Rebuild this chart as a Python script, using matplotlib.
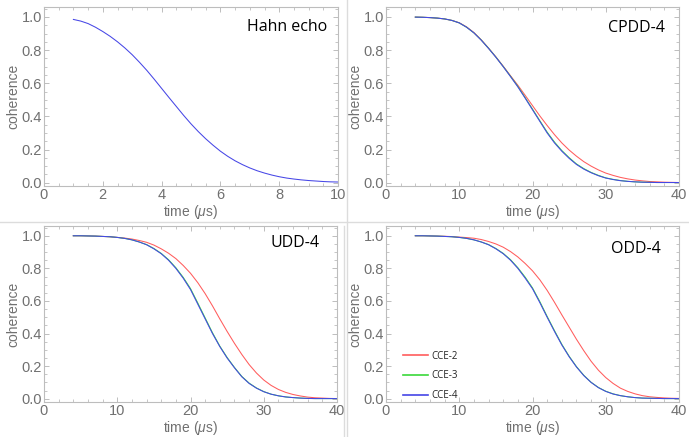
import matplotlib
matplotlib.use("Agg")
import matplotlib.pyplot as plt
from matplotlib.lines import Line2D
from matplotlib.ticker import MultipleLocator

# ---------------- data ----------------
hahn_t = [1.0, 1.25, 1.5, 1.75, 2.0, 2.25, 2.5, 2.75, 3.0, 3.25, 3.5, 3.75, 4.0, 4.25, 4.5, 4.75,
          5.0, 5.25, 5.5, 5.75, 6.0, 6.25, 6.5, 6.75, 7.0, 7.25, 7.5, 7.75, 8.0, 8.25, 8.5, 8.75,
          9.0, 9.25, 9.5, 9.75, 10.0]
hahn_c = [0.985, 0.975, 0.96, 0.938, 0.912, 0.883, 0.85, 0.813, 0.772, 0.726, 0.677, 0.624, 0.569, 0.514, 0.46, 0.406,
          0.355, 0.308, 0.265, 0.226, 0.19, 0.159, 0.132, 0.109, 0.089, 0.072, 0.058, 0.046, 0.036, 0.028, 0.022, 0.017,
          0.013, 0.01, 0.007, 0.005, 0.004]

dd_t = [4, 5, 6, 7, 8, 9, 10, 11, 12, 13, 14, 15, 16, 17, 18, 19, 20, 21, 22,
        23, 24, 25, 26, 27, 28, 29, 30, 31, 32, 33, 34, 35, 36, 37, 38, 39, 40]

cpdd_cce2 = [0.999, 0.998, 0.996, 0.993, 0.988, 0.979, 0.965, 0.94, 0.906, 0.862, 0.812, 0.759, 0.703, 0.645, 0.588, 0.527, 0.465, 0.403, 0.345,
             0.29, 0.24, 0.197, 0.16, 0.127, 0.10, 0.077, 0.058, 0.044, 0.032, 0.023, 0.016, 0.011, 0.007, 0.005, 0.003, 0.002, 0.001]
cpdd_cce3 = [0.999, 0.998, 0.996, 0.993, 0.988, 0.979, 0.964, 0.938, 0.904, 0.861, 0.811, 0.758, 0.701, 0.642, 0.581, 0.513, 0.444, 0.374, 0.305,
             0.245, 0.194, 0.151, 0.113, 0.085, 0.062, 0.044, 0.029, 0.02, 0.013, 0.008, 0.005, 0.003, 0.002, 0.001, 0.001, 0.001, 0.001]
cpdd_cce4 = [0.999, 0.998, 0.996, 0.993, 0.988, 0.979, 0.964, 0.938, 0.904, 0.86, 0.81, 0.757, 0.70, 0.64, 0.578, 0.51, 0.44, 0.37, 0.30,
             0.24, 0.19, 0.147, 0.11, 0.082, 0.06, 0.042, 0.028, 0.019, 0.012, 0.008, 0.005, 0.003, 0.002, 0.001, 0.001, 0.001, 0.001]

udd_cce2 = [1.0, 1.0, 0.999, 0.998, 0.996, 0.994, 0.99, 0.986, 0.98, 0.971, 0.96, 0.943, 0.92, 0.893, 0.86, 0.818, 0.77, 0.712, 0.645,
            0.57, 0.49, 0.413, 0.34, 0.272, 0.21, 0.158, 0.115, 0.082, 0.057, 0.039, 0.026, 0.017, 0.010, 0.006, 0.004, 0.002, 0.001]
udd_cce3 = [1.0, 1.0, 0.999, 0.998, 0.996, 0.994, 0.99, 0.984, 0.975, 0.962, 0.946, 0.922, 0.892, 0.853, 0.804, 0.745, 0.676, 0.587, 0.496,
            0.405, 0.323, 0.253, 0.192, 0.137, 0.096, 0.066, 0.044, 0.028, 0.018, 0.011, 0.007, 0.004, 0.002, 0.001, 0.001, 0.001, 0.001]
udd_cce4 = [1.0, 1.0, 0.999, 0.998, 0.996, 0.994, 0.99, 0.984, 0.975, 0.962, 0.945, 0.92, 0.89, 0.85, 0.80, 0.74, 0.67, 0.58, 0.49,
            0.40, 0.32, 0.25, 0.19, 0.135, 0.094, 0.065, 0.043, 0.028, 0.018, 0.011, 0.007, 0.004, 0.002, 0.001, 0.001, 0.001, 0.001]

odd_cce2 = [1.0, 1.0, 0.999, 0.998, 0.997, 0.995, 0.992, 0.989, 0.985, 0.977, 0.965, 0.95, 0.93, 0.903, 0.87, 0.83, 0.785, 0.73, 0.665,
            0.592, 0.515, 0.44, 0.365, 0.295, 0.23, 0.175, 0.13, 0.094, 0.065, 0.045, 0.03, 0.019, 0.012, 0.008, 0.005, 0.003, 0.002]
odd_cce3 = [1.0, 1.0, 0.999, 0.998, 0.996, 0.994, 0.99, 0.984, 0.975, 0.962, 0.946, 0.922, 0.892, 0.853, 0.804, 0.746, 0.68, 0.596, 0.505,
            0.418, 0.334, 0.261, 0.197, 0.144, 0.101, 0.069, 0.046, 0.03, 0.019, 0.012, 0.007, 0.004, 0.003, 0.002, 0.001, 0.001, 0.001]
odd_cce4 = [1.0, 1.0, 0.999, 0.998, 0.996, 0.994, 0.99, 0.984, 0.975, 0.962, 0.945, 0.92, 0.89, 0.85, 0.80, 0.74, 0.675, 0.59, 0.50,
            0.413, 0.33, 0.258, 0.195, 0.142, 0.10, 0.068, 0.045, 0.029, 0.019, 0.012, 0.007, 0.004, 0.003, 0.002, 0.001, 0.001, 0.001]

titles = ["Hahn echo", "CPDD-4", "UDD-4", "ODD-4"]
legend_labels = ["CCE-2", "CCE-3", "CCE-4"]

RED = "#ff5c5c"
GREEN = "#3ad83a"
BLUE = "#4646e6"
GRAY = "#707070"
SPINE = "#bdbdbd"

plt.rcParams["mathtext.fontset"] = "custom"
plt.rcParams["mathtext.it"] = "Liberation Sans:italic"
plt.rcParams["mathtext.rm"] = "Liberation Sans"

W, H = 689, 437
fig = plt.figure(figsize=(W / 100, H / 100), dpi=100)

def px_axes(l, t, r, b):
    return fig.add_axes([l / W, 1 - b / H, (r - l) / W, (b - t) / H])

def style(ax, xmax, xmaj, xmin):
    ax.set_xlim(0, xmax)
    ax.set_ylim(-0.02, 1.06)
    ax.xaxis.set_major_locator(MultipleLocator(xmaj))
    ax.xaxis.set_minor_locator(MultipleLocator(xmin))
    ax.yaxis.set_minor_locator(MultipleLocator(0.05))
    ax.set_yticks([0.0, 0.2, 0.4, 0.6, 0.8, 1.0])
    ax.set_yticklabels(["0.0", "0.2", "0.4", "0.6", "0.8", "1.0"])
    for s in ax.spines.values():
        s.set_color(SPINE)
        s.set_linewidth(0.8)
    ax.tick_params(which="both", direction="in", top=True, right=True,
                   colors=SPINE, labelcolor=GRAY, labelsize=10.5, pad=1.5)
    ax.tick_params(which="major", length=3.5, width=0.7)
    ax.tick_params(which="minor", length=2, width=0.6)
    for lab in ax.get_xticklabels() + ax.get_yticklabels():
        lab.set_family("Liberation Sans")
    ax.set_ylabel("coherence", color=GRAY, fontsize=10, family="Liberation Sans", labelpad=1)
    ax.set_xlabel(r"time ($\mu$s)", color=GRAY, fontsize=10, family="Liberation Sans", labelpad=1)

ax1 = px_axes(44, 7, 338, 186)
ax2 = px_axes(386, 7, 679, 186)
ax3 = px_axes(44, 226, 337, 402)
ax4 = px_axes(386, 226, 679, 402)

style(ax1, 10, 2, 0.5)
for ax in (ax2, ax3, ax4):
    style(ax, 40, 10, 2)

lw = 0.75
ax1.plot(hahn_t, hahn_c, color=BLUE, lw=lw)

for ax, (c2, c3, c4) in zip((ax2, ax3, ax4),
                           [(cpdd_cce2, cpdd_cce3, cpdd_cce4),
                            (udd_cce2, udd_cce3, udd_cce4),
                            (odd_cce2, odd_cce3, odd_cce4)]):
    ax.plot(dd_t, c2, color=RED, lw=lw)
    ax.plot(dd_t, c3, color=GREEN, lw=lw)
    ax.plot(dd_t, c4, color=BLUE, lw=lw)

tfont = dict(family="Open Sans", fontsize=11.5, color="black", ha="center", va="center")
for title, (xp, yp) in zip(titles, [(287, 27), (636, 28), (295, 243), (636, 249)]):
    fig.text(xp / W, 1 - yp / H, title, **tfont)

# legend inside ODD-4 panel
handles = [Line2D([], [], color=c, lw=1.2) for c in (RED, GREEN, BLUE)]
leg = ax4.legend(handles, legend_labels, loc="lower left",
                 bbox_to_anchor=((396 - 386) / 293, (402 - 408) / 176),
                 frameon=False, fontsize=7, handlelength=2.6, handletextpad=0.3,
                 labelspacing=0.9, borderpad=0.2)
for t in leg.get_texts():
    t.set_family("Open Sans")
    t.set_color("#222222")

# panel separators
sep = "#dcdcdc"
fig.add_artist(Line2D([0, 1], [1 - 222 / H, 1 - 222 / H], color=sep, lw=1))
fig.add_artist(Line2D([347 / W, 347 / W], [0, 1], color=sep, lw=1))
fig.add_artist(Line2D([344 / W, 344 / W], [0, 1 - 226 / H], color=sep, lw=1))

fig.savefig("out.png", dpi=100)
